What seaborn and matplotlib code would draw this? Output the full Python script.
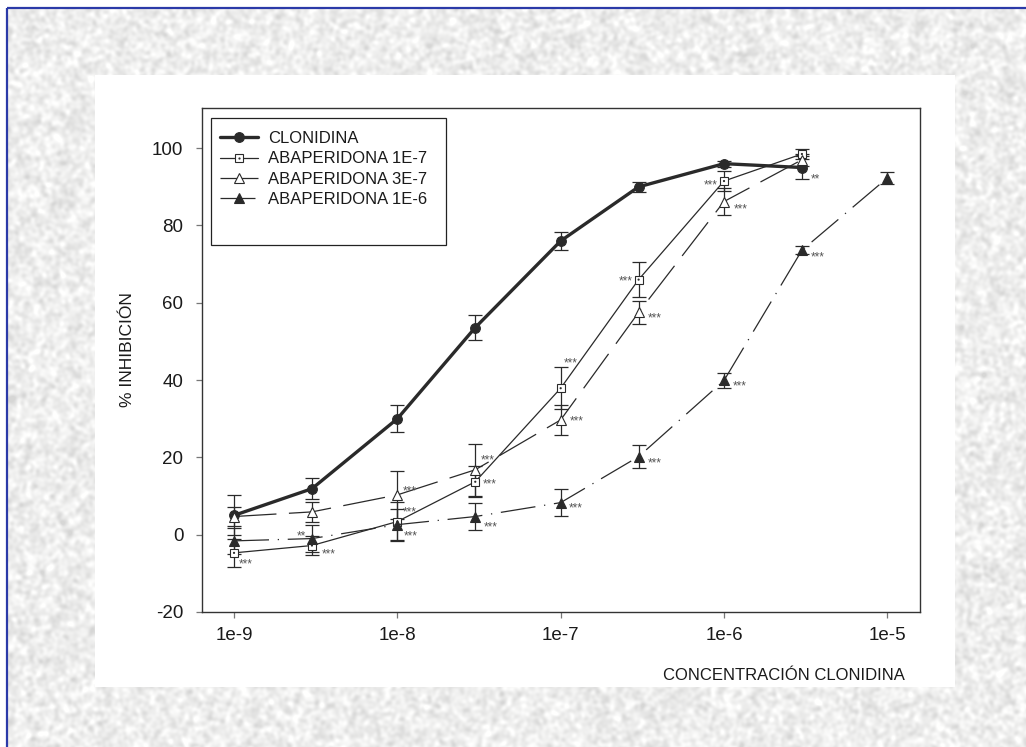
import numpy as np
import pandas as pd
import matplotlib
matplotlib.use("Agg")
import matplotlib.pyplot as plt
import seaborn as sns
from matplotlib.lines import Line2D
from matplotlib.patches import Rectangle
from matplotlib.ticker import FixedLocator, NullLocator

# ---- data -----------------------------------------------------------------
conc = [1e-9, 3e-9, 1e-8, 3e-8, 1e-7, 3e-7, 1e-6, 3e-6, 1e-5]

clonidina = [5.0, 11.9, 30.0, 53.6, 76.0, 90.0, 96.0, 95.0]
clonidina_err = [5.2, 2.7, 3.5, 3.2, 2.3, 1.3, 0.8, 3.0]

aba_1e7 = [-4.7, -2.8, 3.4, 13.7, 37.9, 66.0, 91.5, 98.5]
aba_1e7_err = [3.6, 2.5, 5.0, 4.0, 5.5, 4.5, 2.5, 1.2]

aba_3e7 = [4.7, 5.9, 10.3, 16.8, 29.7, 57.5, 86.2, 97.0]
aba_3e7_err = [2.5, 2.5, 6.3, 6.7, 3.8, 3.0, 3.5, 1.5]

aba_1e6 = [-1.6, -1.0, 2.6, 4.7, 8.3, 20.2, 39.9, 73.6, 92.3]
aba_1e6_err = [3.4, 3.5, 4.0, 3.5, 3.5, 3.0, 2.0, 1.0, 1.5]

series_names = ["CLONIDINA", "ABAPERIDONA 1E-7", "ABAPERIDONA 3E-7", "ABAPERIDONA 1E-6"]

xtick_vals = [1e-9, 1e-8, 1e-7, 1e-6, 1e-5]
xtick_labels = ["1e-9", "1e-8", "1e-7", "1e-6", "1e-5"]
ytick_vals = [-20, 0, 20, 40, 60, 80, 100]

# significance marks: (series, point index, text, dx px, dy px, alignment)
stars = [
    ("CLONIDINA", 7, "**", 9, -8, "left"),
    ("ABAPERIDONA 1E-7", 0, "***", 5, -8, "left"),
    ("ABAPERIDONA 1E-7", 1, "***", 10, -5, "left"),
    ("ABAPERIDONA 1E-7", 2, "***", 5, 13, "left"),
    ("ABAPERIDONA 1E-7", 3, "***", 7, 1, "left"),
    ("ABAPERIDONA 1E-7", 4, "***", 3, 29, "left"),
    ("ABAPERIDONA 1E-7", 5, "***", -6, 2, "right"),
    ("ABAPERIDONA 1E-7", 6, "***", -6, 0, "right"),
    ("ABAPERIDONA 3E-7", 2, "***", 5, 7, "left"),
    ("ABAPERIDONA 3E-7", 3, "***", 5, 13, "left"),
    ("ABAPERIDONA 3E-7", 4, "***", 9, 2, "left"),
    ("ABAPERIDONA 3E-7", 5, "***", 9, -2, "left"),
    ("ABAPERIDONA 3E-7", 6, "***", 10, -4, "left"),
    ("ABAPERIDONA 1E-6", 1, "**", -6, 6, "right"),
    ("ABAPERIDONA 1E-6", 2, "***", 6, -8, "left"),
    ("ABAPERIDONA 1E-6", 3, "***", 8, -7, "left"),
    ("ABAPERIDONA 1E-6", 4, "***", 8, -2, "left"),
    ("ABAPERIDONA 1E-6", 5, "***", 9, -3, "left"),
    ("ABAPERIDONA 1E-6", 6, "***", 9, -2, "left"),
    ("ABAPERIDONA 1E-6", 7, "***", 9, -3, "left"),
]

values = {
    "CLONIDINA": (clonidina, clonidina_err),
    "ABAPERIDONA 1E-7": (aba_1e7, aba_1e7_err),
    "ABAPERIDONA 3E-7": (aba_3e7, aba_3e7_err),
    "ABAPERIDONA 1E-6": (aba_1e6, aba_1e6_err),
}

# ---- styles ---------------------------------------------------------------
INK = "#2a2a2a"
TEXT = "#1a1a1a"
styles = {
    "CLONIDINA": dict(linewidth=2.4, linestyle="-", marker="o", markersize=7.0,
                      markerfacecolor=INK, markeredgecolor=INK, markeredgewidth=0.8),
    "ABAPERIDONA 1E-7": dict(linewidth=0.9, linestyle="-", marker="s", markersize=6.0,
                             markerfacecolor="white", markeredgecolor=INK, markeredgewidth=0.8),
    "ABAPERIDONA 3E-7": dict(linewidth=0.9, linestyle=(0, (34, 10)), marker="^", markersize=7.5,
                             markerfacecolor="white", markeredgecolor=INK, markeredgewidth=0.8),
    "ABAPERIDONA 1E-6": dict(linewidth=0.9, linestyle=(0, (28, 7, 1, 7)), marker="^", markersize=7.5,
                             markerfacecolor=INK, markeredgecolor=INK, markeredgewidth=0.8),
}

sns.set_style("ticks")
plt.rcParams["font.family"] = ["Liberation Sans", "DejaVu Sans"]
plt.rcParams["axes.unicode_minus"] = False

W, H = 1026, 747
fig = plt.figure(figsize=(W / 100, H / 100), dpi=100)

# ---- textured backdrop ------------------------------------------------------
bg = fig.add_axes([0, 0, 1, 1], zorder=-5)
rng = np.random.default_rng(11)
noise = rng.random((H, W))
fy = np.fft.fftfreq(H)[:, None]
fx = np.fft.fftfreq(W)[None, :]
kernel = np.exp(-2 * (np.pi ** 2) * (1.9 ** 2) * (fx ** 2 + fy ** 2))
smooth = np.real(np.fft.ifft2(np.fft.fft2(noise) * kernel))
smooth = (smooth - smooth.mean()) / smooth.std()
tex = np.clip(0.935 + 0.03 * smooth, 0.84, 1.0)
rgb = np.dstack([tex, tex, tex * 0.997])
rgb[:8, :, :] = 1.0
rgb[:, :7, :] = 1.0
bg.imshow(rgb, extent=[0, W, H, 0], aspect="auto", interpolation="bilinear")
bg.set_xlim(0, W)
bg.set_ylim(H, 0)
bg.axis("off")
bg.plot([7, 7], [8, H], color="#2b3aa8", lw=1.6, solid_capstyle="butt")
bg.plot([7, W], [8, 8], color="#2b3aa8", lw=1.6, solid_capstyle="butt")
bg.add_patch(Rectangle((95, 75), 860, 612, facecolor="white", edgecolor="none"))
# legend frame
bg.add_patch(Rectangle((211, 118), 235, 127, facecolor="white", edgecolor="#222222", lw=0.9))

# ---- main axes --------------------------------------------------------------
ax = fig.add_axes([202 / W, 1 - 612 / H, (920 - 202) / W, (612 - 108) / H])
ax.set_facecolor("none")
ax.set_xscale("log")

frames = []
for name in series_names:
    y, e = values[name]
    frames.append(pd.DataFrame({"conc": conc[:len(y)], "inh": y, "err": e, "serie": name}))
df = pd.concat(frames, ignore_index=True)

for name in series_names:
    sub = df[df["serie"] == name]
    ax.errorbar(sub["conc"], sub["inh"], yerr=sub["err"], fmt="none",
                ecolor=INK, elinewidth=0.9, capsize=5, capthick=0.9, zorder=2)
    sns.lineplot(data=sub, x="conc", y="inh", estimator=None, color=INK,
                 ax=ax, zorder=3, **styles[name])

sq = df[df["serie"] == "ABAPERIDONA 1E-7"]
sns.scatterplot(data=sq, x="conc", y="inh", marker="o", s=2.5, color=INK,
                edgecolor="none", ax=ax, zorder=4)

# significance stars (asterisk glyphs sit ~7 px above the baseline)
for name, idx, txt, dx, dy, ha in stars:
    y, _ = values[name]
    ax.annotate(txt, xy=(conc[idx], y[idx]), xytext=(dx * 0.72, (dy - 7) * 0.72),
                textcoords="offset points", ha=ha, va="baseline",
                fontsize=8.5, color="#555555", zorder=5)

ax.set_xlim(10 ** -9.196, 10 ** -4.80)
ax.set_ylim(-20, 110.4)
ax.xaxis.set_major_locator(FixedLocator(xtick_vals))
ax.xaxis.set_minor_locator(NullLocator())
ax.set_xticklabels(xtick_labels)
ax.set_yticks(ytick_vals)

for side in ["left", "bottom", "right", "top"]:
    ax.spines[side].set_visible(True)
    ax.spines[side].set_color("#333333")
    ax.spines[side].set_linewidth(1.0)
ax.tick_params(axis="x", direction="out", length=4.5, width=0.9, color="#777777",
               labelsize=13.5, pad=6, labelcolor=TEXT)
ax.tick_params(axis="y", direction="out", length=4.5, width=0.9, color="#777777",
               labelsize=13.5, pad=9, labelcolor=TEXT)

ax.set_ylabel("% INHIBICIÓN", fontsize=12.5, color=TEXT)
ax.yaxis.set_label_coords(-0.093, 0.52)
ax.set_xlabel("CONCENTRACIÓN CLONIDINA", fontsize=12, color=TEXT)
ax.xaxis.set_label_coords(0.979, -0.125)
ax.xaxis.label.set_ha("right")
ax.xaxis.label.set_va("center")

# ---- legend -----------------------------------------------------------------
handles = []
for name in series_names:
    st = dict(styles[name])
    h = Line2D([], [], color=INK, **st)
    if name == "ABAPERIDONA 1E-7":
        dot = Line2D([], [], color=INK, linestyle="none", marker="o", markersize=1.6,
                     markeredgewidth=0)
        handles.append((h, dot))
    else:
        handles.append(h)
leg = ax.legend(handles, series_names, loc="upper left",
                bbox_to_anchor=((220 - 202) / 718, (612 - 131) / 504),
                borderaxespad=0, borderpad=0, fontsize=12, handlelength=2.3,
                labelspacing=0.32, handletextpad=0.6, frameon=False)
for t in leg.get_texts():
    t.set_color(TEXT)

fig.savefig("out.png", dpi=100)
